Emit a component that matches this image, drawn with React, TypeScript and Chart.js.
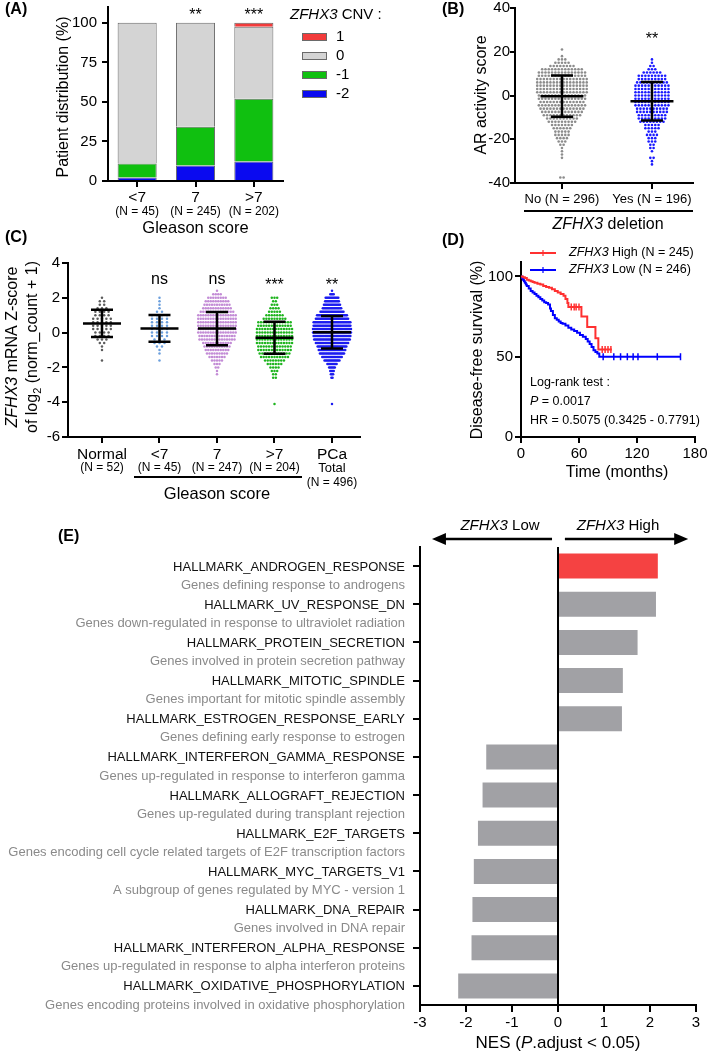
import React, { useEffect, useRef } from 'react';
import { Chart, registerables } from 'chart.js';

Chart.register(...registerables);

const PAGE_W = 709;
const PAGE_H = 1059;
const FONT = '"Liberation Sans", Arial, Helvetica, sans-serif';

// ================= DATA =================
// (A) ZFHX3 CNV distribution by Gleason score (%)
const A_GLEASON = ['<7', '7', '>7'];
const A_N = ['(N = 45)', '(N = 245)', '(N = 202)'];
const A_SIG = ['', '**', '***'];
const A_CNV_LABELS = ['1', '0', '-1', '-2'];
const A_CNV_PLUS1 = [0, 0, 2.5];
const A_CNV_ZERO = [88.9, 65.7, 45.5];
const A_CNV_MINUS1 = [8.9, 24.5, 39.6];
const A_CNV_MINUS2 = [2.2, 9.8, 12.4];
const A_Y_TICKS = [0, 25, 50, 75, 100];

// (B) AR activity score by ZFHX3 deletion (binned rows of the dot plot)
const B_GROUPS = ['No (N = 296)', 'Yes (N = 196)'];
const B_SIG = ['', '**'];
const B_LEVELS = [21, 19.5, 18, 16.5, 15, 13.5, 12, 10.5, 9, 7.5, 6, 4.5, 3, 1.5, 0, -1.5, -3, -4.5, -6, -7.5, -9, -10.5, -12, -13.5, -15, -16.5, -18, -19.5, -21, -22.5, -24, -25.5, -27, -28.5, -30, -31.5, -33, -34.5, -36, -37.5];
const B_NO_COUNTS = [1, 0, 1, 3, 5, 8, 13, 15, 15, 16, 16, 16, 16, 16, 15, 15, 14, 15, 14, 13, 12, 10, 9, 7, 6, 5, 5, 4, 3, 2, 1, 1, 1, 1, 0, 0, 0, 0, 0, 2];
const B_YES_COUNTS = [0, 0, 0, 1, 1, 2, 3, 6, 9, 9, 10, 11, 11, 11, 11, 11, 11, 11, 10, 10, 9, 9, 8, 5, 5, 3, 4, 3, 3, 2, 2, 1, 0, 2, 1, 1, 0, 0, 0, 0];
const B_MEAN = [-0.3, -2.6];
const B_SD = [9.4, 8.8];
const B_Y_TICKS = [-40, -20, 0, 20, 40];

// (C) ZFHX3 mRNA Z-score (binned rows of the dot plot)
const C_GROUPS = ['Normal', '<7', '7', '>7', 'PCa'];
const C_SUB = ['(N = 52)', '(N = 45)', '(N = 247)', '(N = 204)', 'Total'];
const C_PCA_N = '(N = 496)';
const C_SIG = ['', 'ns', 'ns', '***', '**'];
const C_LEVELS = [2.4, 2.2, 2.0, 1.8, 1.6, 1.4, 1.2, 1.0, 0.8, 0.6, 0.4, 0.2, 0.0, -0.2, -0.4, -0.6, -0.8, -1.0, -1.2, -1.4, -1.6, -1.8, -2.0, -2.2, -2.4, -2.6, -4.1];
const C_NORMAL = [0, 0, 1, 2, 2, 3, 4, 4, 5, 5, 5, 5, 4, 4, 3, 2, 1, 1, 0, 0, 1, 0, 0, 0, 0, 0, 0];
const C_LT7 = [0, 0, 1, 1, 1, 1, 2, 4, 4, 4, 4, 4, 4, 4, 3, 3, 2, 1, 1, 0, 1, 0, 0, 0, 0, 0, 0];
const C_EQ7 = [1, 4, 8, 10, 11, 12, 14, 16, 16, 16, 16, 16, 16, 15, 15, 12, 11, 10, 9, 7, 5, 3, 2, 1, 1, 0, 0];
const C_GT7 = [0, 0, 3, 2, 3, 4, 5, 7, 9, 13, 13, 14, 14, 14, 14, 14, 13, 13, 12, 11, 8, 6, 4, 3, 2, 2, 1];
const C_PCA = [1, 4, 12, 13, 15, 17, 21, 27, 29, 33, 33, 34, 34, 33, 32, 29, 26, 24, 22, 18, 14, 9, 6, 4, 3, 2, 1];
const C_MEAN = [0.53, 0.24, 0.23, -0.29, 0.02];
const C_SD = [0.78, 0.77, 0.95, 0.92, 0.93];
const C_Y_TICKS = [-6, -4, -2, 0, 2, 4];

// (D) Kaplan-Meier disease-free survival
const D_HIGH_T = [0, 2, 4, 6, 8, 10, 12, 14, 17, 20, 23, 26, 29, 32, 35, 38, 41, 44, 46, 48, 49, 62.5, 68.5, 77, 80, 94];
const D_HIGH_S = [100, 99.5, 99, 98, 97.5, 97, 96.5, 96, 95.5, 95, 94, 93.5, 93, 92, 91, 90, 89, 88, 86, 83.5, 81, 75, 68.5, 61.5, 54.5, 54.5];
const D_LOW_T = [0, 1, 2, 3, 4, 5, 6, 8, 10, 12, 14, 16, 18, 20, 22, 24, 26, 28, 30, 31, 33, 35, 37, 39, 41, 43, 46, 49, 52, 55, 58, 61, 64, 67, 69, 71, 73, 75, 77, 79, 81, 165];
const D_LOW_S = [100, 99, 98, 97, 96, 95, 94, 92.5, 91, 90, 89, 88, 87, 86, 85, 84, 83.5, 82.5, 80, 78.5, 76, 74, 73, 72, 71, 70.5, 69.5, 68, 67, 66, 65, 63.5, 62.5, 61, 59.5, 58, 56, 54, 53, 52, 50, 50];
const D_HIGH_CENSOR_T = [52, 55, 57, 60, 84, 87, 90, 93];
const D_HIGH_CENSOR_S = [81, 81, 81, 81, 54.5, 54.5, 54.5, 54.5];
const D_LOW_CENSOR_T = [85, 96, 103, 110, 116, 121, 141, 165];
const D_LOW_CENSOR_S = [50, 50, 50, 50, 50, 50, 50, 50];
const D_LEGEND = [' High (N = 245)', ' Low (N = 246)'];
const D_X_TICKS = [0, 60, 120, 180];
const D_Y_TICKS = [0, 50, 100];

// (E) GSEA hallmark NES
const E_SETS = [
  'HALLMARK_ANDROGEN_RESPONSE', 'HALLMARK_UV_RESPONSE_DN', 'HALLMARK_PROTEIN_SECRETION', 'HALLMARK_MITOTIC_SPINDLE',
  'HALLMARK_ESTROGEN_RESPONSE_EARLY', 'HALLMARK_INTERFERON_GAMMA_RESPONSE', 'HALLMARK_ALLOGRAFT_REJECTION', 'HALLMARK_E2F_TARGETS',
  'HALLMARK_MYC_TARGETS_V1', 'HALLMARK_DNA_REPAIR', 'HALLMARK_INTERFERON_ALPHA_RESPONSE', 'HALLMARK_OXIDATIVE_PHOSPHORYLATION',
];
const E_DESC = [
  'Genes defining response to androgens', 'Genes down-regulated in response to ultraviolet radiation',
  'Genes involved in protein secretion pathway', 'Genes important for mitotic spindle assembly',
  'Genes defining early response to estrogen', 'Genes up-regulated in response to interferon gamma',
  'Genes up-regulated during transplant rejection', 'Genes encoding cell cycle related targets of E2F transcription factors',
  'A subgroup of genes regulated by MYC - version 1', 'Genes involved in DNA repair',
  'Genes up-regulated in response to alpha interferon proteins', 'Genes encoding proteins involved in oxidative phosphorylation',
];
const E_NES = [2.17, 2.13, 1.73, 1.41, 1.39, -1.56, -1.64, -1.74, -1.83, -1.86, -1.88, -2.17];
const E_HIGHLIGHT = 'HALLMARK_ANDROGEN_RESPONSE';
const E_X_TICKS = [-3, -2, -1, 0, 1, 2, 3];

// ================= STYLE / HELPERS =================
const RED = '#f23b3b';
const Y_W = 40;
const X_H = 30;

type Seg = { t: string; it?: boolean; sub?: boolean };
type TextOpt = { size?: number; color?: string; align?: 'left' | 'right' | 'center'; bold?: boolean; rot?: number };

function drawText(ctx: CanvasRenderingContext2D, content: string | Seg[], x: number, y: number, o: TextOpt = {}) {
  const segs: Seg[] = typeof content === 'string' ? [{ t: content }] : content;
  const size = o.size ?? 15;
  const font = (s: Seg) => `${s.it ? 'italic ' : ''}${o.bold ? 'bold ' : ''}${s.sub ? Math.round(size * 0.68) : size}px ${FONT}`;
  ctx.save();
  ctx.translate(x, y);
  if (o.rot) ctx.rotate(o.rot);
  ctx.textBaseline = 'middle';
  ctx.textAlign = 'left';
  ctx.fillStyle = o.color ?? '#000';
  let w = 0;
  for (const s of segs) { ctx.font = font(s); w += ctx.measureText(s.t).width; }
  let cx = o.align === 'left' ? 0 : o.align === 'right' ? -w : -w / 2;
  for (const s of segs) {
    ctx.font = font(s);
    ctx.fillText(s.t, cx, s.sub ? size * 0.32 : 0);
    cx += ctx.measureText(s.t).width;
  }
  ctx.restore();
}

function line(ctx: CanvasRenderingContext2D, x1: number, y1: number, x2: number, y2: number, w = 2, color = '#000') {
  ctx.save();
  ctx.strokeStyle = color;
  ctx.lineWidth = w;
  ctx.beginPath();
  ctx.moveTo(x1, y1);
  ctx.lineTo(x2, y2);
  ctx.stroke();
  ctx.restore();
}

function frame(l: number, t: number, r: number, b: number) {
  return { padding: { left: l - Y_W, top: t, right: PAGE_W - r, bottom: PAGE_H - b - X_H } };
}
const fixY = (s: any) => { s.width = Y_W; s.paddingTop = 0; s.paddingBottom = 0; };
const fixX = (s: any) => { s.height = X_H; s.paddingLeft = 0; s.paddingRight = 0; };
const setTicks = (vals: number[]) => (s: any) => { s.ticks = vals.map((v) => ({ value: v })); };

function axis(opts: any = {}) {
  return {
    border: { display: true, color: '#000', width: 2 },
    grid: { display: true, drawOnChartArea: false, drawTicks: true, tickLength: 6, tickWidth: 2, tickColor: '#000', color: '#000', lineWidth: 2, ...(opts.grid || {}) },
    ticks: { color: '#000', font: { family: FONT, size: 15, lineHeight: 1 }, padding: 3, ...(opts.ticks || {}) },
  };
}

function swarm(levels: number[], counts: number[], center: number, step: number) {
  const pts: { x: number; y: number }[] = [];
  levels.forEach((v, i) => {
    const n = counts[i];
    for (let k = 0; k < n; k++) pts.push({ x: center + (k - (n - 1) / 2) * step, y: v });
  });
  return pts;
}

function meanSd(means: number[], sds: number[], halfMean: number, halfCap: number) {
  const pts: { x: number; y: number | null }[] = [];
  means.forEach((m, c) => {
    const s = sds[c];
    pts.push(
      { x: c - halfMean, y: m }, { x: c + halfMean, y: m }, { x: c, y: null },
      { x: c - halfCap, y: m + s }, { x: c + halfCap, y: m + s }, { x: c, y: null },
      { x: c - halfCap, y: m - s }, { x: c + halfCap, y: m - s }, { x: c, y: null },
      { x: c, y: m + s }, { x: c, y: m - s }, { x: c, y: null },
    );
  });
  return pts;
}

const pairs = (xs: number[], ys: number[]) => xs.map((x, i) => ({ x, y: ys[i] }));
const base = { responsive: false, animation: false as const, events: [] as any[] };
const noPlugins = { legend: { display: false }, tooltip: { enabled: false } };

// ================= PANEL A =================
function configA(): any {
  const colors = { '1': RED, '0': '#d4d4d4', '-1': '#10c010', '-2': '#0a0af0' } as Record<string, string>;
  const ds = (label: string, data: number[]) => ({ label, data, backgroundColor: colors[label], borderColor: '#6a6a6a', borderWidth: 1, categoryPercentage: 1, barPercentage: 0.67 });
  return {
    type: 'bar',
    data: {
      labels: A_GLEASON,
      datasets: [ds('-2', A_CNV_MINUS2), ds('-1', A_CNV_MINUS1), ds('0', A_CNV_ZERO), ds('1', A_CNV_PLUS1)],
    },
    options: {
      ...base,
      layout: frame(108, 7, 283, 181),
      plugins: noPlugins,
      scales: {
        x: { stacked: true, ...axis({ grid: { offset: false }, ticks: { display: false } }), afterFit: fixX },
        y: { stacked: true, min: 0, max: 110, ...axis({ ticks: { padding: 5 } }), afterBuildTicks: setTicks(A_Y_TICKS), afterFit: fixY },
      },
    },
    plugins: [{
      id: 'panelA',
      afterDraw(chart: any) {
        const ctx = chart.ctx;
        const xs = chart.scales.x;
        const ca = chart.chartArea;
        drawText(ctx, '(A)', 5, 10, { size: 16, bold: true, align: 'left' });
        drawText(ctx, 'Patient distribution (%)', 64, 97, { size: 16, rot: -Math.PI / 2 });
        A_GLEASON.forEach((g, i) => {
          const x = xs.getPixelForValue(i);
          drawText(ctx, g, x, 198, { size: 15.5 });
          drawText(ctx, A_N[i], x, 212, { size: 12 });
          if (A_SIG[i]) drawText(ctx, A_SIG[i], x, 16, { size: 16 });
        });
        drawText(ctx, 'Gleason score', (ca.left + ca.right) / 2, 228, { size: 16.5 });
        drawText(ctx, [{ t: 'ZFHX3', it: true }, { t: ' CNV :' }], 290, 15, { size: 15, align: 'left' });
        A_CNV_LABELS.forEach((lab, i) => {
          const y = 37 + i * 19;
          ctx.save();
          ctx.fillStyle = colors[lab];
          ctx.strokeStyle = '#6a6a6a';
          ctx.lineWidth = 1;
          ctx.fillRect(302, y - 4, 25, 8);
          ctx.strokeRect(302.5, y - 3.5, 24, 7);
          ctx.restore();
          drawText(ctx, lab, 336, y, { size: 15, align: 'left' });
        });
      },
    }],
  };
}

// ================= PANEL B =================
function configB(): any {
  const PX = 90; // px per group unit
  const step = 3.3 / PX;
  return {
    type: 'scatter',
    data: {
      datasets: [
        { type: 'line', data: meanSd(B_MEAN, B_SD, 21.5 / PX, 11 / PX), borderColor: '#000', borderWidth: 2.5, pointRadius: 0, spanGaps: false },
        { data: swarm(B_LEVELS, B_NO_COUNTS, 0, step), pointBackgroundColor: '#8c8c8c', backgroundColor: '#8c8c8c', pointRadius: 1.3, pointBorderWidth: 0 },
        { data: swarm(B_LEVELS, B_YES_COUNTS, 1, step), pointBackgroundColor: '#1a1aff', backgroundColor: '#1a1aff', pointRadius: 1.3, pointBorderWidth: 0 },
      ],
    },
    options: {
      ...base,
      layout: frame(515, 8, 693, 183),
      plugins: noPlugins,
      scales: {
        x: { type: 'linear', min: -0.522, max: 1.456, ...axis({ ticks: { display: false } }), afterBuildTicks: setTicks([0, 1]), afterFit: fixX },
        y: { min: -40, max: 40, ...axis({ grid: { tickLength: 5 }, ticks: { padding: 0 } }), afterBuildTicks: setTicks(B_Y_TICKS), afterFit: fixY },
      },
    },
    plugins: [{
      id: 'panelB',
      afterDraw(chart: any) {
        const ctx = chart.ctx;
        const xs = chart.scales.x;
        drawText(ctx, '(B)', 442, 10, { size: 16, bold: true, align: 'left' });
        drawText(ctx, 'AR activity score', 482, 95, { size: 16, rot: -Math.PI / 2 });
        B_GROUPS.forEach((g, i) => {
          const x = xs.getPixelForValue(i);
          drawText(ctx, g, x, 199, { size: 13 });
          if (B_SIG[i]) drawText(ctx, B_SIG[i], x, 40, { size: 16 });
        });
        line(ctx, 524, 211, 693, 211, 2);
        drawText(ctx, [{ t: 'ZFHX3', it: true }, { t: ' deletion' }], 608, 225, { size: 16 });
      },
    }],
  };
}

// ================= PANEL C =================
function configC(): any {
  const PX = 57.5;
  const colors = ['#5c5c5c', '#6a9edc', '#c38cd6', '#1eb41e', '#1c1cf0'];
  const counts = [C_NORMAL, C_LT7, C_EQ7, C_GT7, C_PCA];
  const stepPx = [4.4, 5, 2.5, 2.7, 1.15];
  return {
    type: 'scatter',
    data: {
      datasets: [
        { type: 'line', data: meanSd(C_MEAN, C_SD, 19 / PX, 11 / PX), borderColor: '#000', borderWidth: 2.5, pointRadius: 0, spanGaps: false },
        ...counts.map((c, i) => ({
          data: swarm(C_LEVELS, c, i, stepPx[i] / PX),
          pointBackgroundColor: colors[i], backgroundColor: colors[i], pointRadius: 1.25, pointBorderWidth: 0,
        })),
      ],
    },
    options: {
      ...base,
      layout: frame(68, 263, 360, 437),
      plugins: noPlugins,
      scales: {
        x: { type: 'linear', min: -0.591, max: 4.487, ...axis({ ticks: { display: false } }), afterBuildTicks: setTicks([0, 1, 2, 3, 4]), afterFit: fixX },
        y: { min: -6, max: 4, ...axis({ ticks: { padding: 2 } }), afterBuildTicks: setTicks(C_Y_TICKS), afterFit: fixY },
      },
    },
    plugins: [{
      id: 'panelC',
      afterDraw(chart: any) {
        const ctx = chart.ctx;
        const xs = chart.scales.x;
        drawText(ctx, '(C)', 5, 238, { size: 16, bold: true, align: 'left' });
        drawText(ctx, [{ t: 'ZFHX3', it: true }, { t: ' mRNA Z-score' }], 13, 347, { size: 16, rot: -Math.PI / 2 });
        drawText(ctx, [{ t: 'of log' }, { t: '2', sub: true }, { t: ' (norm_count + 1)' }], 33, 347, { size: 16, rot: -Math.PI / 2 });
        C_GROUPS.forEach((g, i) => {
          const x = xs.getPixelForValue(i);
          drawText(ctx, g, x, 455, { size: 15.5 });
          drawText(ctx, C_SUB[i], x, 468, { size: C_SUB[i] === 'Total' ? 13 : 12 });
          const s = C_SIG[i];
          if (s) drawText(ctx, s, x, s === 'ns' ? 280 : 286, { size: 16 });
        });
        drawText(ctx, C_PCA_N, xs.getPixelForValue(4), 483, { size: 12 });
        line(ctx, 134, 477, 302, 477, 2);
        drawText(ctx, 'Gleason score', 217, 494, { size: 16.5 });
      },
    }],
  };
}

// ================= PANEL D =================
function configD(): any {
  const HI = '#ff3030';
  const LO = '#0000ff';
  const censor = (t: number[], s: number[], c: string) => ({
    type: 'scatter', data: pairs(t, s), pointStyle: 'line', pointRotation: 90, rotation: 90, pointRadius: 3.5,
    pointBorderColor: c, borderColor: c, pointBorderWidth: 1.5, borderWidth: 1.5, showLine: false,
  });
  return {
    type: 'line',
    data: {
      datasets: [
        { data: pairs(D_HIGH_T, D_HIGH_S), borderColor: HI, borderWidth: 2, stepped: 'before', pointRadius: 0 },
        censor(D_HIGH_CENSOR_T, D_HIGH_CENSOR_S, HI),
        { data: pairs(D_LOW_T, D_LOW_S), borderColor: LO, borderWidth: 2, stepped: 'before', pointRadius: 0 },
        censor(D_LOW_CENSOR_T, D_LOW_CENSOR_S, LO),
      ],
    },
    options: {
      ...base,
      layout: frame(521, 262, 695, 437),
      plugins: noPlugins,
      scales: {
        x: { type: 'linear', min: 0, max: 180, ...axis(), afterBuildTicks: setTicks(D_X_TICKS), afterFit: fixX },
        y: { min: 0, max: 109, ...axis({ ticks: { padding: 2 } }), afterBuildTicks: setTicks(D_Y_TICKS), afterFit: fixY },
      },
    },
    plugins: [{
      id: 'panelD',
      afterDraw(chart: any) {
        const ctx = chart.ctx;
        drawText(ctx, '(D)', 442, 241, { size: 16, bold: true, align: 'left' });
        drawText(ctx, 'Disease-free survival (%)', 478, 350, { size: 16, rot: -Math.PI / 2 });
        drawText(ctx, 'Time (months)', 617, 473, { size: 16 });
        [HI, LO].forEach((c, i) => {
          const y = 253 + i * 17;
          line(ctx, 530, y, 556, y, 2, c);
          line(ctx, 543, y - 3, 543, y + 3, 1.2, c);
          drawText(ctx, [{ t: 'ZFHX3', it: true }, { t: D_LEGEND[i] }], 569, y, { size: 12.5, align: 'left' });
        });
        drawText(ctx, 'Log-rank test :', 530, 383, { size: 12.5, align: 'left' });
        drawText(ctx, [{ t: 'P', it: true }, { t: ' = 0.0017' }], 530, 402, { size: 12.5, align: 'left' });
        drawText(ctx, 'HR = 0.5075 (0.3425 - 0.7791)', 530, 421, { size: 12.5, align: 'left' });
      },
    }],
  };
}

// ================= PANEL E =================
function configE(): any {
  return {
    type: 'bar',
    data: {
      labels: E_SETS,
      datasets: [{
        data: E_NES,
        backgroundColor: E_SETS.map((s) => (s === E_HIGHLIGHT ? '#f54242' : '#a1a1a5')),
        borderWidth: 0, categoryPercentage: 1, barPercentage: 0.655,
      }],
    },
    options: {
      ...base,
      indexAxis: 'y',
      layout: frame(420, 547, 696, 1005),
      plugins: noPlugins,
      scales: {
        x: {
          min: -3, max: 3,
          ...axis({ grid: { drawOnChartArea: true, color: (c: any) => (c.tick && c.tick.value === 0 ? '#000' : 'rgba(0,0,0,0)'), tickLength: 7 } }),
          afterBuildTicks: setTicks(E_X_TICKS), afterFit: fixX,
        },
        y: { ...axis({ grid: { offset: false, tickLength: 7 }, ticks: { display: false } }), afterFit: fixY },
      },
    },
    plugins: [{
      id: 'panelE',
      afterDraw(chart: any) {
        const ctx = chart.ctx;
        const xs = chart.scales.x;
        const ys = chart.scales.y;
        const half = (ys.getPixelForValue(1) - ys.getPixelForValue(0)) / 2;
        drawText(ctx, '(E)', 58, 537, { size: 16, bold: true, align: 'left' });
        E_SETS.forEach((s, i) => {
          const y = ys.getPixelForValue(i);
          drawText(ctx, s, 405, y + 1, { size: 13, align: 'right', color: '#111' });
          drawText(ctx, E_DESC[i], 405, y + half, { size: 13, align: 'right', color: '#8a8a8a' });
        });
        // direction arrows
        const ay = 539;
        const arrow = (x1: number, x2: number) => {
          const d = Math.sign(x2 - x1);
          line(ctx, x1, ay, x2 - d * 10, ay, 2.5);
          ctx.save();
          ctx.fillStyle = '#000';
          ctx.beginPath();
          ctx.moveTo(x2, ay);
          ctx.lineTo(x2 - d * 14, ay - 6);
          ctx.lineTo(x2 - d * 14, ay + 6);
          ctx.closePath();
          ctx.fill();
          ctx.restore();
        };
        arrow(xs.getPixelForValue(-0.13), xs.getPixelForValue(-2.74));
        arrow(xs.getPixelForValue(0.15), xs.getPixelForValue(2.83));
        drawText(ctx, [{ t: 'ZFHX3', it: true }, { t: ' Low' }], 500, 526, { size: 15 });
        drawText(ctx, [{ t: 'ZFHX3', it: true }, { t: ' High' }], 618, 526, { size: 15 });
        drawText(ctx, [{ t: 'NES (' }, { t: 'P', it: true }, { t: '.adjust < 0.05)' }], 558, 1043, { size: 17 });
      },
    }],
  };
}

// ================= COMPONENTS =================
function Panel({ make }: { make: () => any }) {
  const ref = useRef<HTMLCanvasElement>(null);
  useEffect(() => {
    const chart = new Chart(ref.current as HTMLCanvasElement, make());
    return () => chart.destroy();
  }, []);
  return (
    <canvas
      ref={ref}
      width={PAGE_W}
      height={PAGE_H}
      style={{ position: 'absolute', left: 0, top: 0, width: PAGE_W, height: PAGE_H }}
    />
  );
}

export default function App() {
  return (
    <div style={{ position: 'absolute', left: 0, top: 0, width: PAGE_W, height: PAGE_H, background: '#fff', overflow: 'hidden' }}>
      <Panel make={configA} />
      <Panel make={configB} />
      <Panel make={configC} />
      <Panel make={configD} />
      <Panel make={configE} />
    </div>
  );
}
